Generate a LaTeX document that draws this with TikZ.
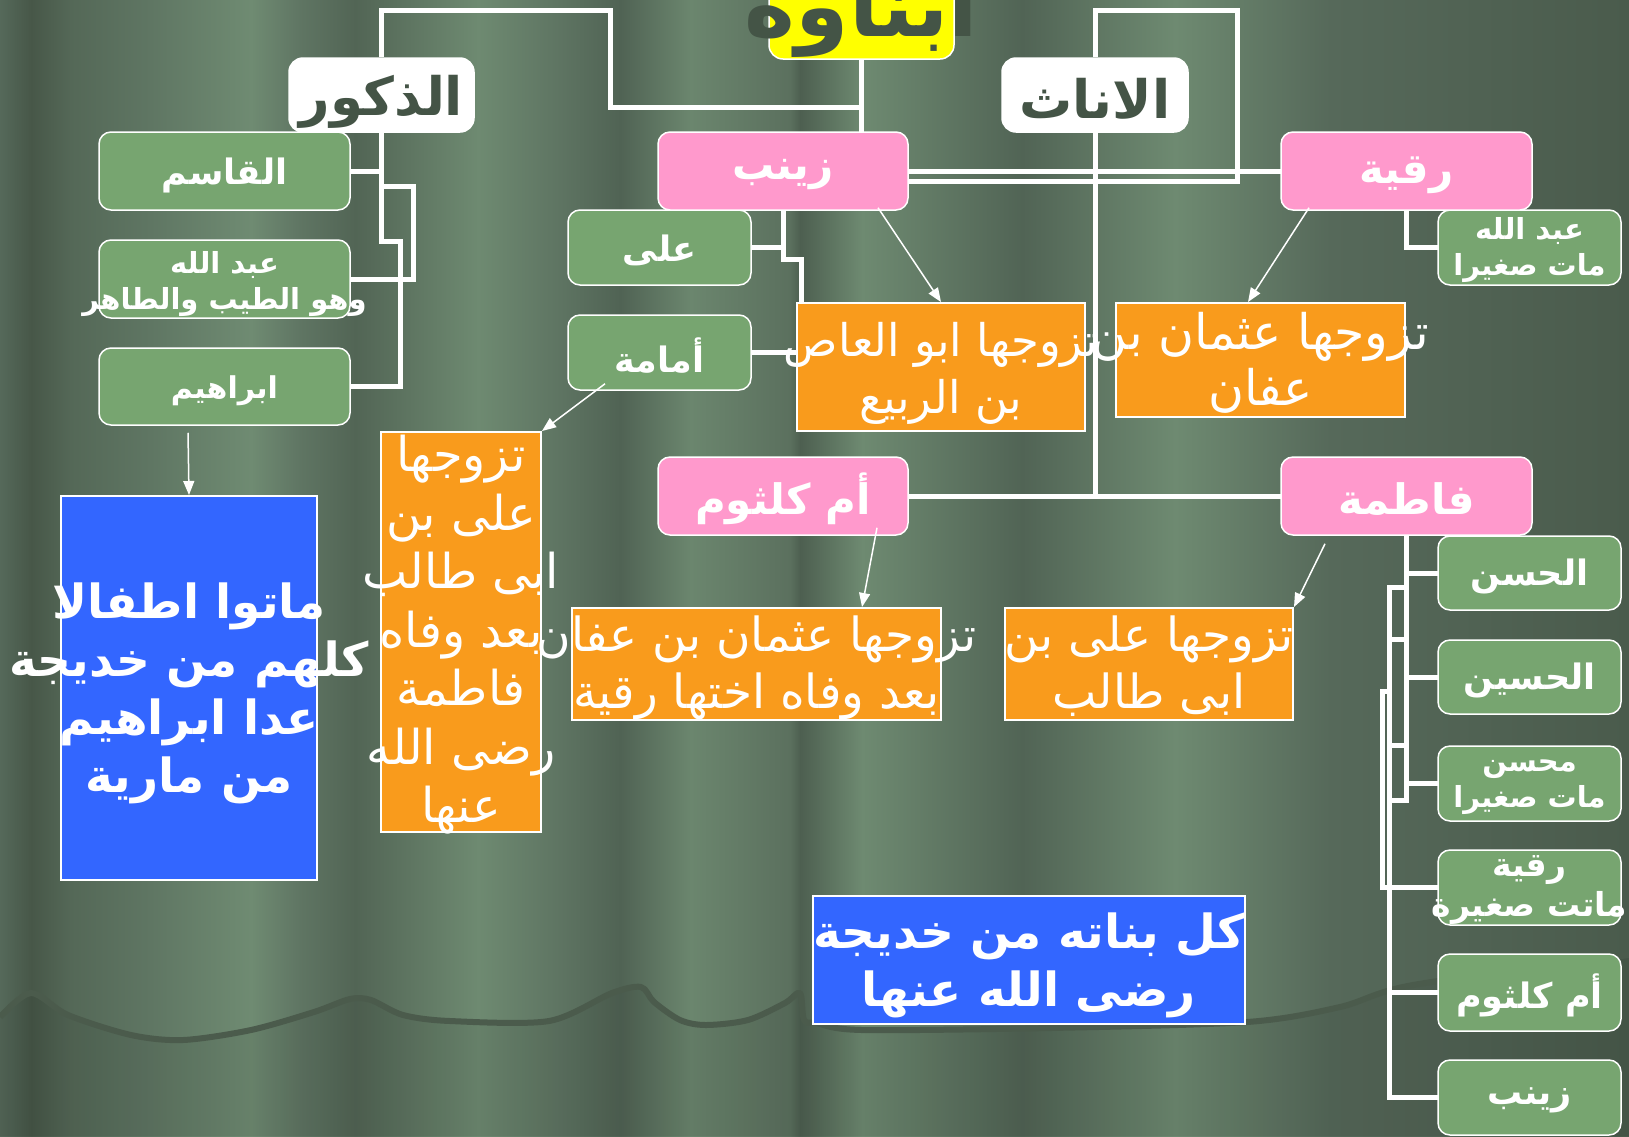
\documentclass[tikz,border=0pt]{standalone}
\usepackage{fontspec}
\usetikzlibrary{arrows.meta,calc}
\TeXXeTstate=1
\newfontfamily\arabicfont[Script=Arabic]{DejaVu Sans}
\newcommand{\arl}[1]{\beginR #1\endR}
\newcommand{\fsz}[2]{\fontsize{#1}{#2}\selectfont}
\definecolor{cGreen}{HTML}{77A570}
\definecolor{cPink}{HTML}{FF99CC}
\definecolor{cOrange}{HTML}{F99B1C}
\definecolor{cBlue}{HTML}{3366FF}
\definecolor{cYellow}{HTML}{FFFF00}
\definecolor{cDark}{HTML}{445446}
\definecolor{cCurve}{HTML}{4B5B4C}
\definecolor{bgA}{HTML}{55695A}
\definecolor{bgB}{HTML}{475748}
\definecolor{bgC}{HTML}{546857}
\definecolor{bgD}{HTML}{5F7663}
\definecolor{bgE}{HTML}{6F8B72}
\definecolor{bgF}{HTML}{5F7563}
\definecolor{bgG}{HTML}{526555}
\definecolor{bgH}{HTML}{6E8A71}
\definecolor{bgI}{HTML}{5E7462}
\definecolor{bgJ}{HTML}{506354}
\definecolor{bgK}{HTML}{6B866E}
\definecolor{bgL}{HTML}{5B705E}
\definecolor{bgM}{HTML}{4D5F50}
\definecolor{bgN}{HTML}{516455}
\definecolor{bgO}{HTML}{56695A}
\definecolor{bgP}{HTML}{4A5B4C}
\tikzset{
  greenbox/.style={draw=white, line width=1.5pt, fill=cGreen, rounded corners=12pt, inner sep=0pt},
  pinkbox/.style={draw=white, line width=1.5pt, fill=cPink, rounded corners=12pt, inner sep=0pt},
  headbox/.style={draw=white, line width=1.5pt, fill=white, rounded corners=14pt, inner sep=0pt},
  yellowbox/.style={draw=white, line width=1.5pt, fill=cYellow, rounded corners=14pt, inner sep=0pt},
  orangebox/.style={draw=white, line width=2pt, fill=cOrange, inner sep=0pt},
  bluebox/.style={draw=white, line width=2pt, fill=cBlue, inner sep=0pt},
  conn/.style={draw=white, line width=5pt},
  arr/.style={draw=white, line width=1.5pt, -{Triangle[length=14pt,width=11pt]}},
  gtext/.style={text=white, align=center, inner sep=0pt, font=\arabicfont\bfseries\fsz{35}{42}},
  gtexttwo/.style={text=white, align=center, inner sep=0pt, font=\arabicfont\bfseries\fsz{29}{36}},
  ptext/.style={text=white, align=center, inner sep=0pt, font=\arabicfont\bfseries\fsz{42}{50}},
  headtext/.style={text=cDark, align=center, inner sep=0pt, font=\arabicfont\bfseries\fsz{53}{60}},
  titletext/.style={text=cDark, inner sep=0pt, font=\arabicfont\bfseries\fsz{86}{90}},
  otext/.style={text=white, align=center, inner sep=0pt, font=\arabicfont\fsz{47}{57}},
  btext/.style={text=white, align=center, inner sep=0pt, font=\arabicfont\bfseries\fsz{47}{58}}
}
\begin{document}
\begin{tikzpicture}[x=1pt,y=-1pt]
\useasboundingbox (0,0) rectangle (1629,1136);
\clip (0,0) rectangle (1629,1136);
% background curtain stripes
\fill[left color=bgA, right color=bgB] (0,0) rectangle (31.5,1136);
\fill[left color=bgB, right color=bgC] (31,0) rectangle (70.5,1136);
\fill[left color=bgC, right color=bgD] (70,0) rectangle (150.5,1136);
\fill[left color=bgD, right color=bgE] (150,0) rectangle (251.5,1136);
\fill[left color=bgE, right color=bgF] (251,0) rectangle (300.5,1136);
\fill[left color=bgF, right color=bgG] (300,0) rectangle (355.5,1136);
\fill[left color=bgG, right color=bgH] (355,0) rectangle (478.5,1136);
\fill[left color=bgH, right color=bgI] (478,0) rectangle (560.5,1136);
\fill[left color=bgI, right color=bgJ] (560,0) rectangle (620.5,1136);
\fill[left color=bgJ, right color=bgK] (620,0) rectangle (690.5,1136);
\fill[left color=bgK, right color=bgL] (690,0) rectangle (790.5,1136);
\fill[left color=bgL, right color=bgM] (790,0) rectangle (800.5,1136);
\fill[left color=bgM, right color=bgH] (800,0) rectangle (862.5,1136);
\fill[left color=bgH, right color=bgN] (862,0) rectangle (1022.5,1136);
\fill[left color=bgN, right color=bgH] (1022,0) rectangle (1175.5,1136);
\fill[left color=bgH, right color=bgO] (1175,0) rectangle (1330.5,1136);
\fill[left color=bgO, right color=bgP] (1330,0) rectangle (1629,1136);
% lower curtain edge
\fill[black, opacity=0.07] plot[smooth, tension=0.5] coordinates {(0,1017) (31,993) (68,1015) (131,1035) (183,1040) (251,1030) (314,1012) (350,999) (371,1000) (403,1015) (450,1021) (549,1021) (612,993) (641,987) (654,1002) (680,1020) (706,1025) (748,1020) (785,1003) (800,993) (804,1020) (816,1023) (862,1030) (1050,1028) (1247,1022) (1340,1007) (1413,985) (1629,955)} -- (1629,1136) -- (0,1136) -- cycle;
\draw[cCurve, line width=6pt, line join=round] plot[smooth, tension=0.5] coordinates {(0,1017) (31,993) (68,1015) (131,1035) (183,1040) (251,1030) (314,1012) (350,999) (371,1000) (403,1015) (450,1021) (549,1021) (612,993) (641,987) (654,1002) (680,1020) (706,1025) (748,1020) (785,1003) (800,993) (804,1020) (816,1023) (862,1030) (1050,1028) (1247,1022) (1340,1007) (1413,985) (1629,955)};

% boxes
\node[yellowbox, minimum width=185pt, minimum height=100pt] (title) at (861.5,9) {};
\node[headbox, minimum width=185pt, minimum height=74pt] (dhukur) at (381.5,95) {};
\node[headbox, minimum width=186pt, minimum height=74pt] (inath) at (1095,95) {};

% connectors (drawn under boxes)
\draw[conn] (title.south) -- (861.5,132);
\draw[conn] (dhukur.north) -- (381.5,10) -- (610,10) -- (610,107) -- (861.5,107);
\draw[conn] (inath.north) -- (1095,10) -- (1237,10) -- (1237,181) -- (908,181);
\draw[conn] (908,171) -- (1281,171);
\draw[conn] (inath.south) -- (1095,496);
\draw[conn] (908,496) -- (1281,496);
\draw[conn] (dhukur.south) -- (381.5,241) -- (400,241) -- (400,386.5) -- (350,386.5);
\draw[conn] (350,171) -- (381.5,171);
\draw[conn] (350,279) -- (413,279) -- (413,186) -- (381.5,186);
\draw[conn] (751,247.5) -- (783,247.5);
\draw[conn] (783,210) -- (783,259) -- (801,259) -- (801,352.5) -- (751,352.5);
\draw[conn] (1406.5,210) -- (1406.5,247.5) -- (1438,247.5);
\draw[conn] (1406.5,535) -- (1406.5,800) -- (1389,800);
\draw[conn] (1406.5,587) -- (1389,587) -- (1389,1097.5) -- (1438,1097.5);
\draw[conn] (1389,639) -- (1406.5,639);
\draw[conn] (1389,745) -- (1406.5,745);
\draw[conn] (1389,691) -- (1382,691) -- (1382,887.5) -- (1438,887.5);
\draw[conn] (1406.5,573) -- (1438,573);
\draw[conn] (1406.5,677) -- (1438,677);
\draw[conn] (1406.5,783.5) -- (1438,783.5);
\draw[conn] (1389,992.5) -- (1438,992.5);

% green boxes
\node[greenbox, minimum width=251pt, minimum height=78pt] (qasim) at (224.5,171) {};
\node[greenbox, minimum width=251pt, minimum height=78pt] (abdallahA) at (224.5,279) {};
\node[greenbox, minimum width=251pt, minimum height=77pt] (ibrahim) at (224.5,386.5) {};
\node[greenbox, minimum width=183pt, minimum height=75pt] (ali) at (659.5,247.5) {};
\node[greenbox, minimum width=183pt, minimum height=75pt] (umama) at (659.5,352.5) {};
\node[greenbox, minimum width=183pt, minimum height=75pt] (abdallahB) at (1529.5,247.5) {};
\node[greenbox, minimum width=183pt, minimum height=74pt] (hasan) at (1529.5,573) {};
\node[greenbox, minimum width=183pt, minimum height=74pt] (husayn) at (1529.5,677) {};
\node[greenbox, minimum width=183pt, minimum height=75pt] (muhsin) at (1529.5,783.5) {};
\node[greenbox, minimum width=183pt, minimum height=75pt] (ruqB) at (1529.5,887.5) {};
\node[greenbox, minimum width=183pt, minimum height=77pt] (umkB) at (1529.5,992.5) {};
\node[greenbox, minimum width=183pt, minimum height=75pt] (zaynabB) at (1529.5,1097.5) {};
% pink boxes
\node[pinkbox, minimum width=250pt, minimum height=78pt] (zaynab) at (783,171) {};
\node[pinkbox, minimum width=251pt, minimum height=78pt] (ruqayya) at (1406.5,171) {};
\node[pinkbox, minimum width=250pt, minimum height=78pt] (umk) at (783,496) {};
\node[pinkbox, minimum width=251pt, minimum height=78pt] (fatima) at (1406.5,496) {};
% orange boxes
\node[orangebox, minimum width=288pt, minimum height=128pt] (oA) at (941,367) {};
\node[orangebox, minimum width=289pt, minimum height=114pt] (oB) at (1260.5,360) {};
\node[orangebox, minimum width=369pt, minimum height=112pt] (oC) at (756.5,664) {};
\node[orangebox, minimum width=288pt, minimum height=112pt] (oD) at (1149,664) {};
\node[orangebox, minimum width=160pt, minimum height=400pt] (oE) at (461,632) {};
% blue boxes
\node[bluebox, minimum width=256pt, minimum height=384pt] (bA) at (189,688) {};
\node[bluebox, minimum width=432pt, minimum height=128pt] (bB) at (1029,960) {};

% texts
\node[titletext, anchor=base] (titleT) at (861.5,36) {\arl{ابناوه}};
\node[headtext] (dhukurT) at ([yshift=-7pt]dhukur.center) {\arl{الذكور}};
\node[headtext] (inathT) at ([yshift=-4pt]inath.center) {\arl{الاناث}};
\node[gtext] (qasimT) at ([yshift=-4pt]qasim.center) {\arl{القاسم}};
\node[gtexttwo] (abdallahAT) at ([yshift=-5pt]abdallahA.center) {\arl{عبد الله}\\\arl{وهو الطيب والطاهر}};
\node[gtext, font=\arabicfont\bfseries\fsz{30}{36}] (ibrahimT) at ([yshift=-4pt]ibrahim.center) {\arl{ابراهيم}};
\node[gtext] (aliT) at ([yshift=-3pt]ali.center) {\arl{على}};
\node[gtext] (umamaT) at ([yshift=-3pt]umama.center) {\arl{أمامة}};
\node[gtexttwo] (abdallahBT) at ([yshift=-3pt]abdallahB.center) {\arl{عبد الله}\\\arl{مات صغيرا}};
\node[gtext] (hasanT) at ([yshift=-3pt]hasan.center) {\arl{الحسن}};
\node[gtext] (husaynT) at ([yshift=-3pt]husayn.center) {\arl{الحسين}};
\node[gtexttwo] (muhsinT) at ([yshift=-4pt]muhsin.center) {\arl{محسن}\\\arl{مات صغيرا}};
\node[gtexttwo, font=\arabicfont\bfseries\fsz{33}{40}] (ruqBT) at ([yshift=-3pt]ruqB.center) {\arl{رقية}\\\arl{ماتت صغيرة}};
\node[gtext] (umkBT) at ([yshift=-3pt]umkB.center) {\arl{أم كلثوم}};
\node[gtext] (zaynabBT) at ([yshift=-3pt]zaynabB.center) {\arl{زينب}};
\node[ptext] (zaynabT) at ([yshift=-4pt]zaynab.center) {\arl{زينب}};
\node[ptext] (ruqayyaT) at ([yshift=-4pt]ruqayya.center) {\arl{رقية}};
\node[ptext] (umkT) at ([yshift=-3pt]umk.center) {\arl{أم كلثوم}};
\node[ptext] (fatimaT) at ([yshift=-3pt]fatima.center) {\arl{فاطمة}};
\node[otext, font=\arabicfont\fsz{45}{57}] (oAT) at ([yshift=-6pt]oA.center) {\arl{تزوجها ابو العاص}\\\arl{بن الربيع}};
\node[otext, font=\arabicfont\fsz{49}{56}] (oBT) at ([yshift=-3pt]oB.center) {\arl{تزوجها عثمان بن}\\\arl{عفان}};
\node[otext] (oCT) at ([yshift=-4pt]oC.center) {\arl{تزوجها عثمان بن عفان}\\\arl{بعد وفاه اختها رقية}};
\node[otext] (oDT) at ([yshift=-2pt]oD.center) {\arl{تزوجها على بن}\\\arl{ابى طالب}};
\node[otext, font=\arabicfont\fsz{48}{58.5}] (oET) at ([yshift=-3pt]oE.center) {\arl{تزوجها}\\\arl{على بن}\\\arl{ابى طالب}\\\arl{بعد وفاه}\\\arl{فاطمة}\\\arl{رضى الله}\\\arl{عنها}};
\node[btext] (bAT) at ([yshift=-5pt]bA.center) {\arl{ماتوا اطفالا}\\\arl{كلهم من خديجة}\\\arl{عدا ابراهيم}\\\arl{من مارية}};
\node[btext] (bBT) at ([yshift=-5pt]bB.center) {\arl{كل بناته من خديجة}\\\arl{رضى الله عنها}};

% arrows
\draw[arr] ([xshift=-36.5pt,yshift=-7pt]ibrahim.south) -- (bA.north);
\draw[arr] ([xshift=-54.5pt,yshift=7pt]umama.south) -- (oE.north east);
\draw[arr] ([xshift=95pt,yshift=3pt]zaynab.south) -- (oA.north);
\draw[arr] ([xshift=-97.5pt,yshift=3pt]ruqayya.south) -- ([xshift=-12.5pt]oB.north);
\draw[arr] ([xshift=94pt,yshift=8pt]umk.south) -- ([xshift=105.5pt]oC.north);
\draw[arr] ([xshift=-81.5pt,yshift=-8pt]fatima.south) -- (oD.north east);
\end{tikzpicture}
\end{document}
